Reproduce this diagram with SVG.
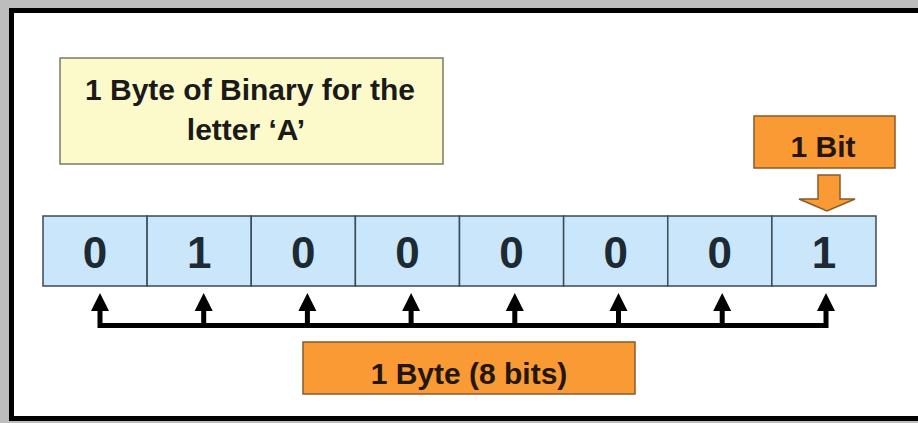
<svg xmlns="http://www.w3.org/2000/svg" xmlns:xlink="http://www.w3.org/1999/xlink" width="918" height="423" viewBox="0 0 918 423">
  <style>
    .label { font-family: "Liberation Sans", Arial, sans-serif; font-weight: bold; text-anchor: middle; }
    .title { font-size: 30px; fill: #1a1a1a; }
    .tag { font-size: 30px; fill: #24160a; }
    .digit { font-size: 44px; fill: #1e2a33; }
    .cell { fill: #c9e6fa; stroke: #3b4a57; stroke-width: 1.5; }
    .orange { fill: #f99a35; stroke: #8a5a2a; stroke-width: 1.5; }
    .link { fill: none; stroke: #000; stroke-width: 5; stroke-linejoin: miter; }
  </style>
  <defs>
    <!-- upward arrowhead, tip 18px above the insertion point -->
    <path id="head" d="M0,-18 L9,0 L-9,0 Z" fill="#000"/>
  </defs>

  <!-- page frame -->
  <rect x="0" y="0" width="918" height="423" fill="#bdbdbd"/>
  <rect x="11.5" y="10.5" width="930" height="408" fill="#ffffff" stroke="#000" stroke-width="5"/>

  <g id="title-box">
    <rect x="60" y="58" width="383" height="106" fill="#fcf9cb" stroke="#7b7a66" stroke-width="1.5"/>
    <text class="label title" x="250" y="100">1 Byte of Binary for the</text>
    <text class="label title" x="246" y="140">letter ‘A’</text>
  </g>

  <g id="bit-label">
    <rect class="orange" x="754" y="116" width="141" height="52"/>
    <text class="label tag" x="823" y="157">1 Bit</text>
  </g>

  <g id="byte-cells">
    <g id="cell-0"><rect class="cell" x="43" y="216" width="104.125" height="70"/><text class="label digit" x="95.1" y="268">0</text></g>
    <g id="cell-1"><rect class="cell" x="147.125" y="216" width="104.125" height="70"/><text class="label digit" x="199.2" y="268">1</text></g>
    <g id="cell-2"><rect class="cell" x="251.25" y="216" width="104.125" height="70"/><text class="label digit" x="303.3" y="268">0</text></g>
    <g id="cell-3"><rect class="cell" x="355.375" y="216" width="104.125" height="70"/><text class="label digit" x="407.4" y="268">0</text></g>
    <g id="cell-4"><rect class="cell" x="459.5" y="216" width="104.125" height="70"/><text class="label digit" x="511.6" y="268">0</text></g>
    <g id="cell-5"><rect class="cell" x="563.625" y="216" width="104.125" height="70"/><text class="label digit" x="615.7" y="268">0</text></g>
    <g id="cell-6"><rect class="cell" x="667.75" y="216" width="104.125" height="70"/><text class="label digit" x="719.8" y="268">0</text></g>
    <g id="cell-7"><rect class="cell" x="771.875" y="216" width="104.125" height="70"/><text class="label digit" x="823.9" y="268">1</text></g>
  </g>

  <g id="byte-label">
    <rect class="orange" x="303" y="342" width="332" height="52"/>
    <text class="label tag" x="469" y="384">1 Byte (8 bits)</text>
  </g>

  <g id="connectors">
    <!-- block arrow from the bit label down to the last cell -->
    <path class="orange" d="M818,175 H840 V199 H855 L827,211 L799,199 H818 Z"/>
    <!-- bracket joining every bit of the byte -->
    <path class="link" d="M100,309 V325.5 H826 V309"/>
    <path class="link" d="M203.7,309 V325.5 M307.4,309 V325.5 M411.1,309 V325.5 M514.8,309 V325.5 M618.5,309 V325.5 M722.2,309 V325.5"/>
    <use xlink:href="#head" x="100" y="311"/>
    <use xlink:href="#head" x="203.7" y="311"/>
    <use xlink:href="#head" x="307.4" y="311"/>
    <use xlink:href="#head" x="411.1" y="311"/>
    <use xlink:href="#head" x="514.8" y="311"/>
    <use xlink:href="#head" x="618.5" y="311"/>
    <use xlink:href="#head" x="722.2" y="311"/>
    <use xlink:href="#head" x="826" y="311"/>
  </g>
</svg>
